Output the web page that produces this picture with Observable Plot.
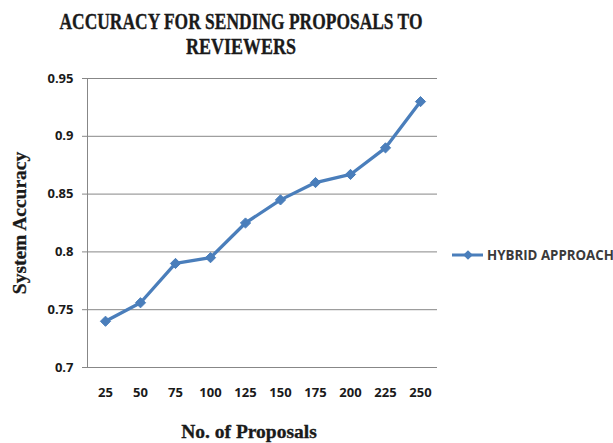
<!DOCTYPE html>
<html>
<head>
<meta charset="utf-8">
<script src="https://cdn.jsdelivr.net/npm/d3@7"></script>
<script src="https://cdn.jsdelivr.net/npm/@observablehq/plot@0.6"></script>
<style>
  html, body { margin: 0; padding: 0; background: #fff; }
  #wrap { position: relative; width: 613px; height: 443px; overflow: hidden; background: #fff; }
  #title { position: absolute; left: 0; top: 0; }
  #chart { position: absolute; left: 0; top: 58px; }
  #xlabel { position: absolute; left: 0; top: 408px; }
  #legend { position: absolute; left: 451px; top: 245px; white-space: nowrap;
            font: 700 13.3px "Open Sans", sans-serif; color: #3a3a3a; display: flex; align-items: center; }
  #legend svg { margin-right: 3px; }
  .serif { font-family: "Liberation Serif", serif; font-weight: 700; fill: #1a1a1a; stroke: #1a1a1a; stroke-width: 0.35; }
</style>
</head>
<body>
<div id="wrap">
  <svg id="title" width="613" height="58"></svg>
  <div id="chart"></div>
  <svg id="xlabel" width="613" height="35"></svg>
  <div id="legend"></div>
</div>
<script>
// Number of proposals sent and the resulting system accuracy
const proposals = [25, 50, 75, 100, 125, 150, 175, 200, 225, 250];
const accuracy = [0.74, 0.756, 0.79, 0.795, 0.825, 0.845, 0.86, 0.867, 0.89, 0.93];
const yTicks = [0.7, 0.75, 0.8, 0.85, 0.9, 0.95];
const titleLines = ["ACCURACY FOR SENDING PROPOSALS TO", "REVIEWERS"];
const seriesName = "HYBRID APPROACH";
const xTitle = "No. of Proposals";
const yTitle = "System Accuracy";

const blue = "#4A7EBB";
const rows = proposals.map((p, i) => ({proposals: p, accuracy: accuracy[i]}));

// Title, two centred lines in a condensed bold serif
const title = d3.select("#title");
const titleSpecs = [{y: 29, len: 363}, {y: 54, len: 110}];
titleLines.forEach((t, i) => {
  title.append("text")
    .attr("class", "serif")
    .attr("x", 241).attr("y", titleSpecs[i].y)
    .attr("text-anchor", "middle")
    .attr("font-size", 24)
    .attr("textLength", titleSpecs[i].len)
    .attr("lengthAdjust", "spacingAndGlyphs")
    .text(t);
});

const chart = Plot.plot({
  width: 613,
  height: 350,
  marginTop: 20,
  marginBottom: 41,
  marginLeft: 87,
  marginRight: 176,
  style: {background: "transparent", color: "#1a1a1a"},
  x: {type: "point", domain: proposals, padding: 0.5, label: null},
  y: {domain: [0.7, 0.95], label: null},
  marks: [
    Plot.gridY(yTicks, {stroke: "#878787", strokeOpacity: 1}),
    Plot.frame({anchor: "left", stroke: "#878787"}),
    Plot.axisY(yTicks, {
      tickSize: 5, tickPadding: 9, stroke: "#878787",
      tickFormat: d => String(+d.toFixed(2)),
      fontSize: 13, fontWeight: 700, fontFamily: "Open Sans, sans-serif", fill: "#1a1a1a",
      label: yTitle, labelAnchor: "center", labelArrow: "none", labelOffset: 75
    }),
    Plot.axisX({
      tickSize: 0, tickPadding: 20,
      fontSize: 13, fontWeight: 700, fontFamily: "Open Sans, sans-serif", fill: "#1a1a1a",
      label: null
    }),
    Plot.line(rows, {x: "proposals", y: "accuracy", stroke: blue, strokeWidth: 3.3}),
    Plot.dot(rows, {x: "proposals", y: "accuracy", symbol: "diamond2", r: 4.6, fill: blue, stroke: blue, strokeWidth: 1})
  ]
});
document.getElementById("chart").append(chart);

// Y title font: bold serif
d3.select(chart).selectAll("[aria-label='y-axis label']")
  .attr("font-family", "Liberation Serif, serif").attr("font-size", 19.5).attr("font-weight", 700)
  .attr("stroke", "#1a1a1a").attr("stroke-width", 0.3);

// X axis title below the chart
d3.select("#xlabel").append("text")
  .attr("class", "serif")
  .attr("x", 249).attr("y", 30)
  .attr("text-anchor", "middle")
  .attr("font-size", 19.5)
  .text(xTitle);

// Legend: swatch and series name
const legend = d3.select("#legend");
const sw = legend.append("svg").attr("width", 33).attr("height", 20);
sw.append("line").attr("x1", 1).attr("x2", 32).attr("y1", 10).attr("y2", 10)
  .attr("stroke", blue).attr("stroke-width", 3);
sw.append("path").attr("transform", "translate(17,10)")
  .attr("d", d3.symbol(d3.symbolDiamond2, 60)()).attr("fill", blue);
legend.append("span").text(seriesName);
</script>
</body>
</html>
